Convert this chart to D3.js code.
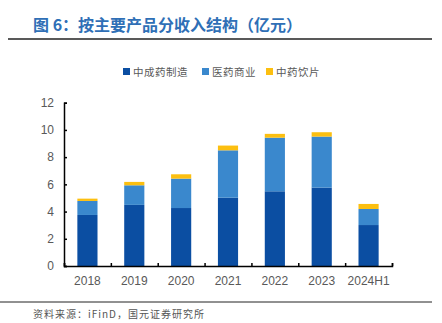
<!DOCTYPE html>
<html>
<head>
<meta charset="utf-8">
<script src="https://cdn.jsdelivr.net/npm/d3@7"></script>
<style>
body { margin: 0; background: #fff; }
svg { display: block; font-family: "Noto Sans CJK SC", sans-serif; }
</style>
</head>
<body>
<svg></svg>
<script>
var width = 442, height = 323;

var years = ["2018", "2019", "2020", "2021", "2022", "2023", "2024H1"];
var manufacture = [3.75, 4.49, 4.26, 5.02, 5.49, 5.76, 3.01];
var commerce = [1.03, 1.44, 2.16, 3.48, 3.94, 3.75, 1.18];
var slices = [0.17, 0.25, 0.32, 0.35, 0.28, 0.32, 0.37];
var seriesNames = ["中成药制造", "医药商业", "中药饮片"];
var colors = ["#0b4ea2", "#3a88cd", "#fcbf10"];
var yTicks = [0, 2, 4, 6, 8, 10, 12];

var svg = d3.select("svg")
    .attr("width", width)
    .attr("height", height);

// title + rules
svg.append("text")
    .attr("x", 33).attr("y", 31)
    .attr("fill", "#2f6fb6")
    .attr("font-size", 16)
    .attr("font-weight", "bold")
    .text("图 6：按主要产品分收入结构（亿元）");
svg.append("line")
    .attr("x1", 8).attr("x2", 432).attr("y1", 39).attr("y2", 39)
    .attr("stroke", "#222").attr("stroke-width", 1.5);
svg.append("line")
    .attr("x1", 0).attr("x2", 432).attr("y1", 302).attr("y2", 302)
    .attr("stroke", "#222").attr("stroke-width", 1);
svg.append("text")
    .attr("x", 33).attr("y", 318)
    .attr("fill", "#555")
    .attr("font-size", 10)
    .attr("letter-spacing", 1)
    .text("资料来源：iFinD，国元证券研究所");

var x = d3.scaleBand().domain(years).range([64, 392]).paddingInner(0.57).paddingOuter(0.285);
var y = d3.scaleLinear().domain([0, 12]).range([266, 102.7]);

var table = years.map(function (d, i) {
    return { year: d, a: manufacture[i], b: commerce[i], c: slices[i] };
});
var stack = d3.stack().keys(["a", "b", "c"])(table);

svg.append("g")
    .selectAll("g")
    .data(stack)
    .join("g")
    .attr("fill", function (d, i) { return colors[i]; })
    .selectAll("rect")
    .data(function (d) { return d; })
    .join("rect")
    .attr("x", function (d) { return x(d.data.year); })
    .attr("width", x.bandwidth())
    .attr("y", function (d) { return y(d[1]); })
    .attr("height", function (d) { return y(d[0]) - y(d[1]); });

// axes
var yAxis = svg.append("g")
    .attr("transform", "translate(64,0)")
    .call(d3.axisLeft(y).tickValues(yTicks).tickSize(-3).tickPadding(10));
yAxis.selectAll("text").attr("fill", "#595959").attr("font-size", 12).attr("font-family", "Liberation Sans, Arial, sans-serif");

var xEdges = d3.axisBottom(d3.scaleLinear().domain([0, 7]).range([64, 392]))
    .tickValues(d3.range(8)).tickSize(-3).tickFormat("");
svg.append("g").attr("transform", "translate(0,266)").call(xEdges);

var xAxis = svg.append("g")
    .attr("transform", "translate(0,266)")
    .call(d3.axisBottom(x).tickSize(0).tickPadding(10));
xAxis.select(".domain").remove();
xAxis.selectAll("text").attr("fill", "#595959").attr("font-size", 12).attr("font-family", "Liberation Sans, Arial, sans-serif");

svg.selectAll(".domain").attr("stroke", "#000").attr("stroke-width", 1.5);
svg.selectAll(".tick line").attr("stroke", "#000").attr("stroke-width", 1.5);

// legend
var legendX = [123, 202, 266];
var lg = svg.append("g").selectAll("g")
    .data(seriesNames)
    .join("g")
    .attr("transform", function (d, i) { return "translate(" + legendX[i] + ",72)"; });
lg.append("rect")
    .attr("x", 0).attr("y", -4).attr("width", 7).attr("height", 7)
    .attr("fill", function (d, i) { return colors[i]; });
lg.append("text")
    .attr("x", 10).attr("y", 4)
    .attr("fill", "#595959")
    .attr("font-size", 10.5)
    .attr("letter-spacing", 0.5)
    .text(function (d) { return d; });
</script>
</body>
</html>
